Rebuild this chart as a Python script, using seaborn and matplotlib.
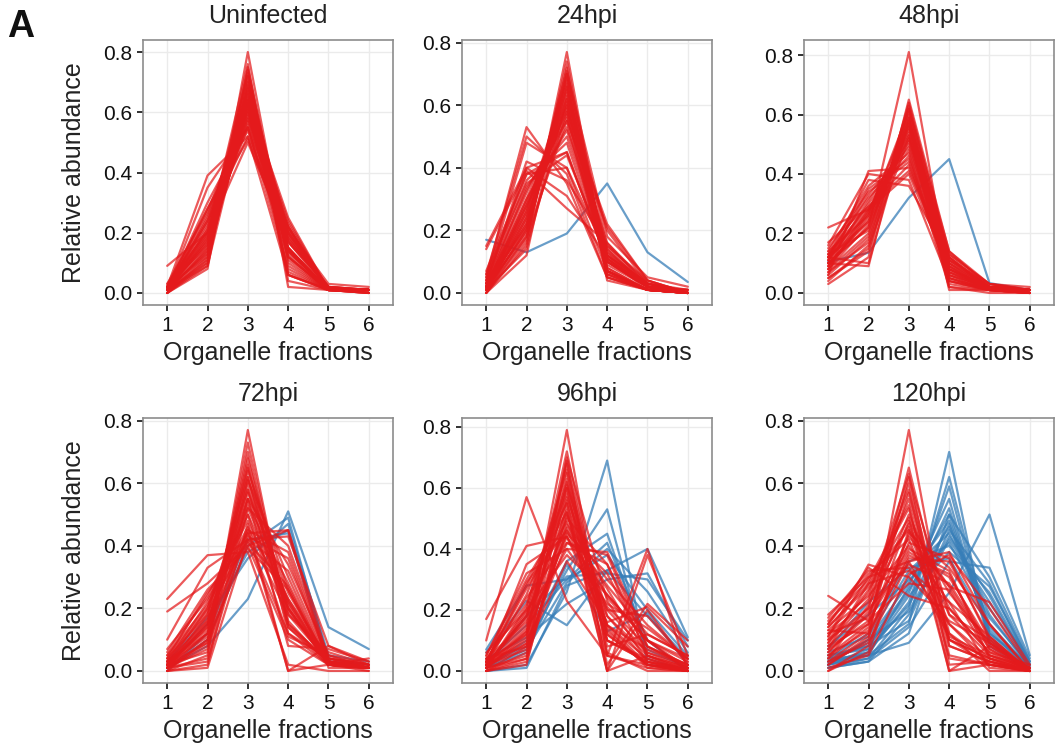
import numpy as np
import pandas as pd
import matplotlib
matplotlib.use("Agg")
import matplotlib.pyplot as plt
import seaborn as sns

fractions = [1, 2, 3, 4, 5, 6]
titles = ["Uninfected", "24hpi", "48hpi", "72hpi", "96hpi", "120hpi"]

uninf_red = [
    [0.09, 0.20, 0.50, 0.18, 0.02, 0.01], [0.02, 0.39, 0.52, 0.06, 0.01, 0.00],
    [0.01, 0.35, 0.55, 0.08, 0.01, 0.00], [0.00, 0.08, 0.80, 0.10, 0.01, 0.01],
    [0.01, 0.10, 0.75, 0.12, 0.01, 0.01], [0.00, 0.09, 0.72, 0.17, 0.01, 0.01],
    [0.02, 0.12, 0.70, 0.14, 0.01, 0.01], [0.01, 0.14, 0.68, 0.15, 0.01, 0.01],
    [0.02, 0.16, 0.66, 0.14, 0.01, 0.01], [0.01, 0.18, 0.64, 0.15, 0.01, 0.01],
    [0.03, 0.20, 0.62, 0.13, 0.01, 0.01], [0.01, 0.22, 0.60, 0.15, 0.01, 0.01],
    [0.02, 0.24, 0.58, 0.14, 0.01, 0.01], [0.01, 0.26, 0.56, 0.15, 0.01, 0.01],
    [0.02, 0.28, 0.54, 0.14, 0.01, 0.01], [0.01, 0.30, 0.55, 0.12, 0.01, 0.01],
    [0.00, 0.12, 0.62, 0.24, 0.01, 0.01], [0.01, 0.14, 0.60, 0.23, 0.01, 0.01],
    [0.02, 0.16, 0.58, 0.22, 0.01, 0.01], [0.01, 0.18, 0.57, 0.22, 0.01, 0.01],
    [0.01, 0.20, 0.55, 0.22, 0.01, 0.01], [0.00, 0.10, 0.68, 0.20, 0.01, 0.01],
    [0.01, 0.13, 0.66, 0.19, 0.01, 0.00], [0.02, 0.15, 0.70, 0.11, 0.01, 0.01],
    [0.01, 0.11, 0.74, 0.12, 0.01, 0.01], [0.02, 0.17, 0.73, 0.06, 0.01, 0.01],
    [0.01, 0.19, 0.76, 0.02, 0.01, 0.01], [0.01, 0.21, 0.72, 0.04, 0.01, 0.01],
    [0.02, 0.23, 0.67, 0.06, 0.01, 0.01], [0.01, 0.25, 0.63, 0.09, 0.01, 0.01],
    [0.03, 0.27, 0.61, 0.07, 0.01, 0.01], [0.01, 0.09, 0.64, 0.25, 0.01, 0.00],
    [0.02, 0.13, 0.63, 0.20, 0.02, 0.00], [0.01, 0.28, 0.51, 0.17, 0.02, 0.01],
    [0.01, 0.24, 0.52, 0.20, 0.02, 0.01], [0.00, 0.11, 0.69, 0.21, 0.03, 0.02],
    [0.01, 0.17, 0.65, 0.18, 0.02, 0.01], [0.02, 0.19, 0.61, 0.19, 0.01, 0.00],
    [0.01, 0.21, 0.59, 0.17, 0.02, 0.01], [0.00, 0.15, 0.64, 0.21, 0.01, 0.01],
]
uninf_blue = []

h24_red = [
    [0.05, 0.53, 0.35, 0.05, 0.01, 0.01], [0.06, 0.50, 0.38, 0.05, 0.01, 0.00],
    [0.04, 0.48, 0.40, 0.07, 0.01, 0.00], [0.15, 0.40, 0.31, 0.11, 0.02, 0.01],
    [0.14, 0.39, 0.27, 0.16, 0.03, 0.01], [0.03, 0.40, 0.45, 0.10, 0.02, 0.00],
    [0.00, 0.15, 0.77, 0.07, 0.01, 0.00], [0.01, 0.17, 0.74, 0.07, 0.01, 0.00],
    [0.01, 0.20, 0.72, 0.06, 0.01, 0.00], [0.02, 0.22, 0.70, 0.05, 0.01, 0.00],
    [0.00, 0.18, 0.69, 0.11, 0.02, 0.00], [0.01, 0.24, 0.67, 0.07, 0.01, 0.00],
    [0.02, 0.26, 0.65, 0.06, 0.01, 0.00], [0.01, 0.28, 0.62, 0.08, 0.01, 0.00],
    [0.02, 0.30, 0.60, 0.07, 0.01, 0.00], [0.03, 0.32, 0.58, 0.06, 0.01, 0.00],
    [0.01, 0.20, 0.64, 0.13, 0.02, 0.00], [0.02, 0.22, 0.60, 0.14, 0.02, 0.00],
    [0.01, 0.25, 0.56, 0.16, 0.02, 0.00], [0.03, 0.28, 0.53, 0.14, 0.02, 0.00],
    [0.02, 0.34, 0.50, 0.12, 0.02, 0.00], [0.04, 0.36, 0.48, 0.10, 0.02, 0.00],
    [0.05, 0.38, 0.45, 0.10, 0.02, 0.00], [0.02, 0.30, 0.52, 0.13, 0.03, 0.00],
    [0.01, 0.14, 0.62, 0.20, 0.03, 0.00], [0.00, 0.16, 0.58, 0.22, 0.04, 0.00],
    [0.02, 0.18, 0.55, 0.21, 0.04, 0.00], [0.07, 0.38, 0.40, 0.12, 0.03, 0.00],
    [0.03, 0.42, 0.36, 0.15, 0.04, 0.00], [0.01, 0.26, 0.68, 0.04, 0.01, 0.00],
    [0.02, 0.19, 0.66, 0.11, 0.02, 0.00], [0.04, 0.33, 0.55, 0.07, 0.01, 0.00],
    [0.00, 0.12, 0.70, 0.15, 0.03, 0.00], [0.06, 0.35, 0.44, 0.12, 0.03, 0.00],
    [0.01, 0.23, 0.61, 0.12, 0.02, 0.01], [0.00, 0.21, 0.71, 0.18, 0.05, 0.02],
    [0.01, 0.24, 0.63, 0.10, 0.02, 0.00], [0.02, 0.27, 0.59, 0.11, 0.01, 0.00],
    [0.01, 0.29, 0.57, 0.09, 0.02, 0.00], [0.03, 0.21, 0.66, 0.08, 0.01, 0.00],
]
h24_blue = [
    [0.17, 0.13, 0.19, 0.35, 0.13, 0.035],
]

h48_red = [
    [0.10, 0.22, 0.81, 0.05, 0.01, 0.00], [0.22, 0.28, 0.40, 0.08, 0.02, 0.00],
    [0.17, 0.29, 0.43, 0.10, 0.01, 0.00], [0.03, 0.12, 0.65, 0.14, 0.02, 0.01],
    [0.05, 0.15, 0.64, 0.12, 0.02, 0.01], [0.07, 0.17, 0.62, 0.11, 0.02, 0.01],
    [0.08, 0.20, 0.60, 0.10, 0.02, 0.00], [0.10, 0.22, 0.58, 0.08, 0.01, 0.01],
    [0.12, 0.24, 0.55, 0.07, 0.01, 0.01], [0.14, 0.26, 0.52, 0.06, 0.01, 0.01],
    [0.09, 0.28, 0.50, 0.10, 0.02, 0.01], [0.11, 0.30, 0.48, 0.09, 0.01, 0.01],
    [0.13, 0.32, 0.46, 0.07, 0.01, 0.01], [0.15, 0.34, 0.44, 0.05, 0.01, 0.01],
    [0.06, 0.41, 0.42, 0.09, 0.01, 0.01], [0.12, 0.38, 0.36, 0.12, 0.01, 0.01],
    [0.16, 0.40, 0.38, 0.04, 0.01, 0.01], [0.10, 0.09, 0.62, 0.14, 0.03, 0.02],
    [0.12, 0.10, 0.58, 0.13, 0.03, 0.01], [0.09, 0.25, 0.56, 0.04, 0.01, 0.00],
    [0.11, 0.27, 0.54, 0.02, 0.01, 0.00], [0.13, 0.21, 0.57, 0.03, 0.01, 0.01],
    [0.08, 0.23, 0.53, 0.12, 0.02, 0.01], [0.10, 0.31, 0.51, 0.05, 0.01, 0.01],
    [0.07, 0.19, 0.63, 0.07, 0.02, 0.01], [0.05, 0.14, 0.59, 0.09, 0.02, 0.01],
    [0.14, 0.36, 0.47, 0.02, 0.00, 0.00], [0.12, 0.33, 0.49, 0.04, 0.01, 0.00],
    [0.09, 0.26, 0.61, 0.01, 0.01, 0.01], [0.06, 0.18, 0.56, 0.13, 0.03, 0.01],
    [0.11, 0.35, 0.45, 0.08, 0.01, 0.00], [0.04, 0.16, 0.52, 0.11, 0.02, 0.01],
    [0.13, 0.29, 0.41, 0.11, 0.03, 0.01], [0.08, 0.27, 0.59, 0.06, 0.02, 0.00],
    [0.10, 0.24, 0.57, 0.08, 0.02, 0.01], [0.12, 0.28, 0.53, 0.06, 0.01, 0.00],
]
h48_blue = [
    [0.105, 0.135, 0.32, 0.45, 0.033, 0.01],
]

h72_red = [
    [0.23, 0.37, 0.38, 0.02, 0.00, 0.00], [0.19, 0.28, 0.40, 0.10, 0.02, 0.01],
    [0.10, 0.33, 0.42, 0.12, 0.02, 0.01], [0.00, 0.05, 0.77, 0.14, 0.03, 0.01],
    [0.01, 0.07, 0.73, 0.16, 0.02, 0.01], [0.02, 0.09, 0.70, 0.15, 0.03, 0.01],
    [0.01, 0.10, 0.65, 0.20, 0.03, 0.01], [0.03, 0.12, 0.62, 0.19, 0.03, 0.01],
    [0.02, 0.14, 0.60, 0.21, 0.02, 0.01], [0.01, 0.15, 0.58, 0.22, 0.03, 0.01],
    [0.04, 0.18, 0.55, 0.20, 0.02, 0.01], [0.02, 0.20, 0.52, 0.23, 0.02, 0.01],
    [0.03, 0.22, 0.50, 0.22, 0.02, 0.01], [0.05, 0.24, 0.48, 0.20, 0.02, 0.01],
    [0.01, 0.12, 0.45, 0.38, 0.03, 0.01], [0.02, 0.15, 0.43, 0.36, 0.03, 0.01],
    [0.03, 0.19, 0.42, 0.32, 0.03, 0.01], [0.00, 0.10, 0.40, 0.45, 0.04, 0.01],
    [0.01, 0.08, 0.44, 0.45, 0.01, 0.01], [0.04, 0.25, 0.41, 0.27, 0.02, 0.01],
    [0.06, 0.26, 0.39, 0.26, 0.02, 0.01], [0.02, 0.17, 0.45, 0.00, 0.08, 0.03],
    [0.03, 0.16, 0.50, 0.11, 0.05, 0.02], [0.02, 0.11, 0.55, 0.08, 0.07, 0.03],
    [0.01, 0.09, 0.68, 0.18, 0.03, 0.01], [0.03, 0.13, 0.64, 0.26, 0.02, 0.01],
    [0.02, 0.06, 0.61, 0.30, 0.02, 0.01], [0.01, 0.04, 0.55, 0.34, 0.05, 0.01],
    [0.00, 0.02, 0.52, 0.40, 0.04, 0.02], [0.05, 0.21, 0.46, 0.23, 0.04, 0.01],
    [0.07, 0.23, 0.44, 0.18, 0.06, 0.02], [0.02, 0.14, 0.66, 0.12, 0.04, 0.02],
    [0.01, 0.18, 0.62, 0.15, 0.03, 0.01], [0.04, 0.20, 0.58, 0.14, 0.02, 0.02],
    [0.00, 0.01, 0.42, 0.43, 0.08, 0.02], [0.01, 0.03, 0.47, 0.00, 0.02, 0.04],
    [0.02, 0.12, 0.57, 0.25, 0.03, 0.01], [0.01, 0.16, 0.53, 0.28, 0.02, 0.00],
]
h72_blue = [
    [0.01, 0.08, 0.23, 0.51, 0.14, 0.07], [0.01, 0.10, 0.40, 0.49, 0.03, 0.02],
    [0.02, 0.15, 0.38, 0.45, 0.04, 0.02], [0.00, 0.12, 0.42, 0.44, 0.03, 0.01],
    [0.03, 0.17, 0.36, 0.47, 0.05, 0.03],
]

h96_red = [
    [0.17, 0.41, 0.44, 0.25, 0.10, 0.03], [0.10, 0.57, 0.23, 0.05, 0.01, 0.00],
    [0.02, 0.10, 0.79, 0.05, 0.02, 0.00], [0.01, 0.12, 0.72, 0.10, 0.03, 0.01],
    [0.00, 0.08, 0.69, 0.00, 0.20, 0.02], [0.03, 0.15, 0.68, 0.12, 0.02, 0.00],
    [0.02, 0.18, 0.65, 0.14, 0.01, 0.00], [0.01, 0.20, 0.62, 0.15, 0.02, 0.00],
    [0.04, 0.22, 0.60, 0.12, 0.02, 0.00], [0.02, 0.25, 0.58, 0.13, 0.02, 0.00],
    [0.03, 0.28, 0.55, 0.10, 0.04, 0.00], [0.05, 0.30, 0.52, 0.10, 0.03, 0.00],
    [0.01, 0.05, 0.50, 0.35, 0.08, 0.01], [0.00, 0.03, 0.48, 0.30, 0.15, 0.04],
    [0.02, 0.07, 0.46, 0.28, 0.12, 0.05], [0.03, 0.12, 0.45, 0.32, 0.06, 0.02],
    [0.01, 0.09, 0.42, 0.38, 0.08, 0.02], [0.04, 0.16, 0.40, 0.22, 0.14, 0.04],
    [0.02, 0.13, 0.44, 0.20, 0.18, 0.03], [0.00, 0.02, 0.55, 0.00, 0.38, 0.05],
    [0.01, 0.04, 0.52, 0.05, 0.40, 0.00], [0.06, 0.20, 0.38, 0.25, 0.10, 0.01],
    [0.02, 0.35, 0.44, 0.15, 0.04, 0.00], [0.03, 0.27, 0.49, 0.18, 0.03, 0.00],
    [0.01, 0.11, 0.63, 0.08, 0.12, 0.05], [0.00, 0.06, 0.60, 0.02, 0.22, 0.10],
    [0.02, 0.14, 0.57, 0.20, 0.06, 0.01], [0.01, 0.19, 0.47, 0.27, 0.05, 0.01],
    [0.03, 0.24, 0.42, 0.35, 0.05, 0.00], [0.05, 0.32, 0.40, 0.39, 0.10, 0.00],
    [0.02, 0.17, 0.53, 0.00, 0.05, 0.00], [0.04, 0.08, 0.36, 0.16, 0.21, 0.08],
    [0.01, 0.21, 0.66, 0.06, 0.00, 0.00], [0.00, 0.04, 0.70, 0.23, 0.03, 0.00],
    [0.02, 0.09, 0.51, 0.24, 0.10, 0.04], [0.03, 0.29, 0.46, 0.21, 0.08, 0.02],
    [0.01, 0.13, 0.61, 0.18, 0.05, 0.01], [0.02, 0.18, 0.56, 0.15, 0.07, 0.02],
]
h96_blue = [
    [0.00, 0.02, 0.26, 0.69, 0.02, 0.01], [0.02, 0.08, 0.33, 0.53, 0.04, 0.00],
    [0.01, 0.10, 0.36, 0.45, 0.07, 0.01], [0.03, 0.15, 0.30, 0.42, 0.10, 0.00],
    [0.07, 0.28, 0.30, 0.38, 0.20, 0.05], [0.00, 0.01, 0.28, 0.33, 0.40, 0.11],
    [0.02, 0.18, 0.31, 0.32, 0.30, 0.10], [0.06, 0.23, 0.15, 0.33, 0.18, 0.04],
    [0.01, 0.06, 0.35, 0.13, 0.19, 0.02], [0.04, 0.11, 0.22, 0.30, 0.32, 0.08],
    [0.01, 0.07, 0.29, 0.40, 0.26, 0.06],
]

h120_red = [
    [0.24, 0.16, 0.28, 0.26, 0.05, 0.01], [0.17, 0.32, 0.33, 0.15, 0.02, 0.00],
    [0.15, 0.33, 0.24, 0.20, 0.06, 0.02], [0.02, 0.10, 0.77, 0.08, 0.03, 0.00],
    [0.05, 0.15, 0.65, 0.12, 0.03, 0.00], [0.03, 0.12, 0.62, 0.18, 0.05, 0.00],
    [0.08, 0.20, 0.60, 0.10, 0.02, 0.00], [0.10, 0.25, 0.58, 0.05, 0.02, 0.00],
    [0.12, 0.22, 0.55, 0.08, 0.03, 0.00], [0.14, 0.28, 0.52, 0.04, 0.02, 0.00],
    [0.06, 0.18, 0.50, 0.20, 0.06, 0.00], [0.04, 0.14, 0.48, 0.25, 0.09, 0.00],
    [0.09, 0.26, 0.46, 0.15, 0.04, 0.00], [0.11, 0.30, 0.45, 0.10, 0.04, 0.00],
    [0.15, 0.31, 0.42, 0.12, 0.00, 0.00], [0.13, 0.24, 0.40, 0.22, 0.01, 0.00],
    [0.07, 0.16, 0.38, 0.30, 0.09, 0.00], [0.05, 0.13, 0.36, 0.35, 0.11, 0.00],
    [0.03, 0.09, 0.35, 0.38, 0.15, 0.00], [0.10, 0.20, 0.34, 0.28, 0.08, 0.00],
    [0.16, 0.29, 0.53, 0.00, 0.02, 0.00], [0.14, 0.27, 0.49, 0.00, 0.08, 0.01],
    [0.00, 0.08, 0.44, 0.33, 0.15, 0.00], [0.02, 0.11, 0.41, 0.36, 0.10, 0.00],
    [0.06, 0.19, 0.39, 0.32, 0.04, 0.00], [0.12, 0.17, 0.57, 0.10, 0.04, 0.01],
    [0.09, 0.23, 0.63, 0.02, 0.03, 0.00], [0.04, 0.21, 0.47, 0.18, 0.10, 0.00],
    [0.08, 0.15, 0.43, 0.27, 0.07, 0.00], [0.13, 0.12, 0.37, 0.31, 0.07, 0.00],
    [0.00, 0.06, 0.45, 0.27, 0.22, 0.02], [0.18, 0.30, 0.35, 0.11, 0.05, 0.01],
    [0.07, 0.28, 0.32, 0.22, 0.11, 0.00], [0.11, 0.34, 0.30, 0.16, 0.09, 0.00],
    [0.01, 0.05, 0.31, 0.37, 0.20, 0.01],
]
h120_blue = [
    [0.02, 0.05, 0.15, 0.70, 0.08, 0.00], [0.01, 0.04, 0.20, 0.62, 0.12, 0.01],
    [0.03, 0.06, 0.22, 0.59, 0.10, 0.00], [0.04, 0.08, 0.25, 0.52, 0.11, 0.00],
    [0.02, 0.10, 0.28, 0.50, 0.12, 0.02], [0.05, 0.07, 0.30, 0.48, 0.15, 0.01],
    [0.03, 0.09, 0.26, 0.46, 0.18, 0.01], [0.06, 0.11, 0.32, 0.44, 0.20, 0.02],
    [0.01, 0.03, 0.18, 0.42, 0.22, 0.03], [0.04, 0.12, 0.35, 0.40, 0.25, 0.02],
    [0.02, 0.06, 0.24, 0.38, 0.27, 0.03], [0.07, 0.22, 0.33, 0.36, 0.14, 0.01],
    [0.03, 0.05, 0.09, 0.25, 0.50, 0.05], [0.02, 0.04, 0.14, 0.35, 0.33, 0.04],
    [0.05, 0.08, 0.16, 0.45, 0.28, 0.02], [0.01, 0.03, 0.12, 0.50, 0.30, 0.03],
    [0.03, 0.10, 0.19, 0.43, 0.24, 0.01], [0.08, 0.18, 0.29, 0.41, 0.17, 0.02],
    [0.02, 0.07, 0.21, 0.47, 0.13, 0.00], [0.04, 0.05, 0.27, 0.55, 0.09, 0.01],
]

red_sets = [uninf_red, h24_red, h48_red, h72_red, h96_red, h120_red]
blue_sets = [uninf_blue, h24_blue, h48_blue, h72_blue, h96_blue, h120_blue]

RED = "#E41A1C"
BLUE = "#377EB8"


def to_long(lines):
    rows = []
    for i, vals in enumerate(lines):
        for f, v in zip(fractions, vals):
            rows.append((i, f, v))
    return pd.DataFrame(rows, columns=["unit", "fraction", "abundance"])


sns.set_style("white")
plt.rcParams["font.family"] = ["Liberation Sans", "DejaVu Sans"]

fig = plt.figure(figsize=(10.62, 7.5), dpi=100)

lefts = [143, 462, 804]
tops = [40, 418]
W, H = 250, 265

for k in range(6):
    r, c = divmod(k, 3)
    ax = fig.add_axes([lefts[c] / 1062, 1 - (tops[r] + H) / 750, W / 1062, H / 750])
    if blue_sets[k]:
        sns.lineplot(data=to_long(blue_sets[k]), x="fraction", y="abundance",
                     units="unit", estimator=None, color=BLUE, alpha=0.75,
                     linewidth=1.6, ax=ax)
    sns.lineplot(data=to_long(red_sets[k]), x="fraction", y="abundance",
                 units="unit", estimator=None, color=RED, alpha=0.72,
                 linewidth=1.6, ax=ax)
    ax.set_xlim(0.4, 6.6)
    ax.set_xticks(fractions)
    ax.set_yticks([0.0, 0.2, 0.4, 0.6, 0.8])
    ax.set_yticklabels(["0.0", "0.2", "0.4", "0.6", "0.8"])
    ax.grid(True, color="#EBEBEB", linewidth=1.0)
    ax.set_axisbelow(True)
    for s in ax.spines.values():
        s.set_visible(True)
        s.set_color("#8C8C8C")
        s.set_linewidth(1.2)
    ax.tick_params(axis="both", which="major", length=4, width=1.3,
                   color="#222222", labelsize=15, labelcolor="#111111", pad=4,
                   left=True, bottom=True)
    ax.set_title(titles[k], fontsize=18, color="#222222", pad=12)
    ax.set_xlabel("Organelle fractions", fontsize=18, color="#222222", labelpad=4)
    if c == 0:
        ax.set_ylabel("Relative abundance", fontsize=18, color="#222222", labelpad=12)
    else:
        ax.set_ylabel("")

fig.text(0.007, 0.988, "A", fontsize=27, fontweight="bold",
         va="top", ha="left", color="#111111")

fig.savefig("out.png", dpi=100)
